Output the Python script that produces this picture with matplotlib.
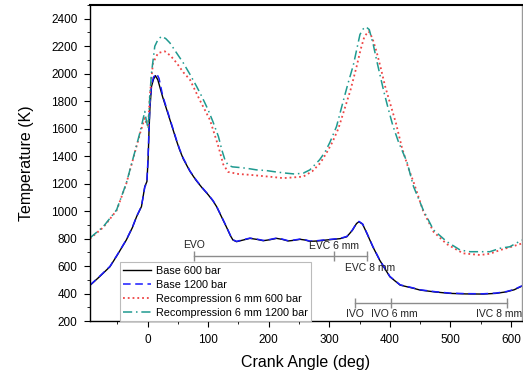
import matplotlib
matplotlib.use('Agg')
import matplotlib.pyplot as plt
from matplotlib.ticker import MultipleLocator

plt.rcParams['font.family'] = ['Liberation Sans', 'DejaVu Sans']

# ---------------- data ----------------
base600_deg = [-95, -80, -62, -50, -35, -25, -18, -10, -4.5, -1, 1, 2.6, 4, 6.6, 10, 13, 17, 25,
               37, 48, 53, 59, 70, 80, 90, 100, 108, 114, 122, 130, 137, 141, 147, 158, 169, 180,
               191, 202, 213, 222, 232, 242, 252, 260, 268, 280, 295, 307, 318, 329, 338, 345,
               349, 355, 362, 372, 383, 392, 400, 417, 438, 450, 475, 499, 525, 554, 575, 592,
               605, 618]
base600_T = [460, 520, 596, 680, 790, 880, 960, 1033, 1179, 1215, 1380, 1600, 1750, 1907, 1960,
             1985, 1955, 1830, 1664, 1510, 1446, 1380, 1290, 1225, 1170, 1120, 1075, 1033, 960,
             887, 820, 790, 778, 790, 802, 795, 785, 792, 802, 795, 783, 788, 795, 790, 780, 783,
             790, 795, 800, 814, 860, 910, 923, 905, 839, 740, 645, 580, 523, 462, 440, 426, 412,
             402, 398, 397, 402, 413, 428, 455]

base1200_deg = [-95, -80, -62, -50, -35, -25, -18, -10, -4.5, -1, 1, 2.6, 4, 6.6, 10, 15, 19, 25,
                37, 48, 53, 59, 70, 80, 90, 100, 108, 114, 122, 130, 137, 141, 147, 158, 169, 180,
                191, 202, 213, 222, 232, 242, 252, 260, 268, 280, 295, 307, 318, 329, 338, 345,
                349, 355, 362, 372, 383, 392, 400, 417, 438, 450, 475, 499, 525, 554, 575, 592,
                605, 618]
base1200_T = [462, 522, 598, 682, 792, 882, 962, 1035, 1175, 1210, 1400, 1620, 1780, 1920, 1975,
              2000, 1965, 1840, 1670, 1515, 1450, 1385, 1292, 1228, 1172, 1122, 1077, 1035, 962,
              889, 822, 792, 780, 792, 804, 797, 787, 794, 804, 797, 785, 790, 797, 792, 782, 785,
              792, 797, 802, 816, 862, 912, 925, 907, 841, 742, 647, 582, 525, 464, 442, 428, 414,
              404, 400, 399, 404, 415, 430, 457]

rec600_deg = [-95, -73, -51, -35, -21, -12, -4.5, -2, 1, 4, 9, 17.5, 28.6, 38, 48, 59, 70, 86,
              103, 117, 125, 133, 150, 169, 190, 207, 224, 240, 257, 272, 285, 295, 305, 315, 325,
              335, 345, 352, 358, 365, 371, 378, 385, 392, 400, 410, 420, 430, 440, 455, 472, 494,
              521, 549, 565, 582, 600, 618]
rec600_T = [800, 882, 1005, 1200, 1425, 1570, 1677, 1640, 1620, 1850, 2078, 2150, 2162, 2130,
            2078, 2010, 1956, 1810, 1664, 1470, 1340, 1285, 1270, 1264, 1255, 1248, 1240, 1245,
            1251, 1290, 1349, 1420, 1500, 1600, 1740, 1880, 2050, 2180, 2270, 2308, 2260, 2160,
            2040, 1910, 1790, 1640, 1460, 1320, 1200, 1000, 850, 760, 693, 681, 690, 717, 740,
            765]

rec1200_deg = [-95, -73, -51, -35, -21, -12, -4.5, -2, 1, 4, 6.6, 12, 17, 23, 30, 37, 48, 59, 70,
               81, 90, 100, 108, 117, 123, 128, 133, 140, 150, 163, 180, 196, 212, 229, 243, 257,
               268, 284, 293, 301, 312, 323, 331, 339.6, 346, 350.6, 356, 360.5, 366, 372.6, 378,
               383.6, 390, 397, 405, 414, 422, 428, 439, 455, 472, 494, 516, 532, 549, 565, 582,
               598, 618]
rec1200_T = [805, 887, 1009, 1203, 1430, 1580, 1725, 1660, 1600, 1850, 2005, 2199, 2245, 2271,
             2255, 2223, 2150, 2078, 1995, 1907, 1830, 1737, 1650, 1543, 1440, 1370, 1335, 1322,
             1318, 1312, 1300, 1295, 1285, 1276, 1270, 1276, 1300, 1373, 1430, 1500, 1616, 1800,
             1930, 2060, 2190, 2284, 2325, 2340, 2320, 2211, 2100, 1992, 1870, 1750, 1620, 1506,
             1422, 1361, 1179, 1009, 863, 778, 717, 705, 705, 705, 730, 741, 790]

labels = ['Base 600 bar', 'Base 1200 bar', 'Recompression 6 mm 600 bar',
          'Recompression 6 mm 1200 bar']

# valve events (deg) and the temperature level of the marker bars
evo, evc6, evc8 = 77, 308, 363
ivo, ivo6, ivc8 = 342, 402, 593
exh_level = 675
int_level = 330

# ---------------- plot ----------------
fig = plt.figure(figsize=(5.23, 3.73), dpi=100)
ax = fig.add_axes([0.172, 0.139, 0.826, 0.848])

ax.plot(base600_deg, base600_T, '-', color='black', lw=1.0, label=labels[0])
ax.plot(base1200_deg, base1200_T, '--', color='#1a1aff', lw=1.1, dashes=(5, 3), label=labels[1])
ax.plot(rec600_deg, rec600_T, ':', color='#ee4444', lw=1.3, label=labels[2])
ax.plot(rec1200_deg, rec1200_T, '-.', color='#1f9a90', lw=1.1, dashes=(6, 2.5, 1, 2.5), label=labels[3])

# valve timing bars
gray = '#8c8c8c'
ax.plot([evo, evc8], [exh_level, exh_level], color=gray, lw=1.0)
ax.vlines([evo, evc6, evc8], exh_level - 35, exh_level + 35, color=gray, lw=1.0)
ax.plot([ivo, ivc8], [int_level, int_level], color=gray, lw=1.0)
ax.vlines([ivo, ivo6, ivc8], int_level - 35, int_level + 35, color=gray, lw=1.0)

tk = dict(fontsize=7.5, color='#222222', ha='center', va='center')
ax.text(evo, 755, 'EVO', **tk)
ax.text(evc6, 748, 'EVC 6 mm', **tk)
ax.text(evc8 + 4, 588, 'EVC 8 mm', **tk)
ax.text(ivo, 252, 'IVO', **tk)
ax.text(ivo6 + 5, 252, 'IVO 6 mm', **tk)
ax.text(ivc8 - 12, 252, 'IVC 8 mm', **tk)

ax.set_xlim(-95, 618)
ax.set_ylim(200, 2500)
ax.xaxis.set_major_locator(MultipleLocator(100))
ax.xaxis.set_minor_locator(MultipleLocator(50))
ax.yaxis.set_major_locator(MultipleLocator(200))
ax.yaxis.set_minor_locator(MultipleLocator(100))
ax.set_yticks(range(200, 2401, 200))
ax.tick_params(which='both', direction='out', labelsize=8.5, top=False, right=False)
ax.tick_params(which='major', length=4, pad=5)
ax.tick_params(which='minor', length=2.5)
for s in ax.spines.values():
    s.set_linewidth(1.0)
ax.spines['top'].set_linewidth(1.5)
ax.spines['right'].set_color('#999999')

ax.set_xlabel('Crank Angle (deg)', fontsize=11.5, labelpad=7)
ax.set_ylabel('Temperature (K)', fontsize=11.5, labelpad=12)

leg = ax.legend(loc='lower left', bbox_to_anchor=(0.069, 0.0), borderaxespad=0,
                fontsize=7.8, handlelength=2.6, labelspacing=0.38, handletextpad=0.4,
                frameon=True, fancybox=False, framealpha=1, borderpad=0.3)
leg.get_frame().set_edgecolor('#bbbbbb')
leg.get_frame().set_linewidth(0.8)

fig.savefig('out.png', dpi=100)
